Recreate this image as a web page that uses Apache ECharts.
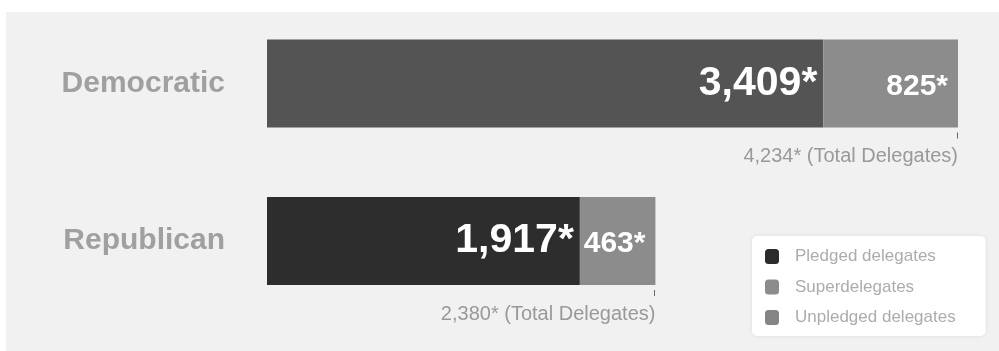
<!DOCTYPE html>
<html>
<head>
<meta charset="utf-8">
<script src="https://cdn.jsdelivr.net/npm/echarts@6/dist/echarts.min.js"></script>
<style>
  html, body { margin: 0; padding: 0; background: #fff; }
  #chart { width: 999px; height: 351px; }
</style>
</head>
<body>
<div id="chart"></div>
<script>
// Delegate counts per party
const parties = ['Democratic', 'Republican'];
const pledged = [3409, 1917];
const superdelegates = [825, 463];
const unpledged = [];
const seriesNames = ['Pledged delegates', 'Superdelegates', 'Unpledged delegates'];

const totals = parties.map((p, i) => pledged[i] + superdelegates[i]);
const fmt = v => Number(v).toLocaleString('en-US') + '*';

const FONT = '"Liberation Sans", Arial, Helvetica, sans-serif';
const BAR_W = 88;

const chart = echarts.init(document.getElementById('chart'), null, { renderer: 'canvas' });

chart.setOption({
  backgroundColor: '#ffffff',
  animation: false,
  graphic: [{
    type: 'rect',
    z: -10,
    left: 6, top: 12,
    shape: { width: 993, height: 339 },
    style: { fill: '#f1f1f1' }
  }],
  grid: { left: 267, right: 41, top: 4.75, height: 315 },
  xAxis: {
    type: 'value', min: 0, max: totals[0],
    show: false
  },
  yAxis: {
    type: 'category',
    data: parties,
    inverse: true,
    axisLine: { show: false },
    axisTick: { show: false },
    splitLine: { show: false },
    axisLabel: {
      margin: 42,
      color: '#a0a0a0',
      fontFamily: FONT,
      fontWeight: 'bold',
      fontSize: 30
    }
  },
  legend: {
    data: seriesNames,
    orient: 'vertical',
    left: 752, top: 236,
    padding: [12, 30, 10, 13],
    itemGap: 13.5,
    itemWidth: 14, itemHeight: 15,
    icon: 'roundRect',
    backgroundColor: '#ffffff',
    borderRadius: 5,
    shadowBlur: 4,
    shadowColor: 'rgba(0,0,0,0.08)',
    selectedMode: false,
    textStyle: {
      color: '#acacac',
      fontFamily: FONT,
      fontSize: 17,
      padding: [0, 0, 0, 11]
    }
  },
  series: [
    {
      name: seriesNames[0],
      type: 'bar',
      stack: 'del',
      barWidth: BAR_W,
      itemStyle: { color: '#2b2b2b' },
      data: pledged.map((v, i) => ({
        value: v,
        itemStyle: { color: i === 0 ? '#545454' : '#2d2d2d' }
      })),
      label: {
        show: true,
        position: 'insideRight',
        distance: 6,
        color: '#ffffff',
        fontFamily: FONT,
        fontWeight: 'bold',
        fontSize: 41,
        formatter: p => fmt(p.value)
      }
    },
    {
      name: seriesNames[1],
      type: 'bar',
      stack: 'del',
      barWidth: BAR_W,
      itemStyle: { color: '#8c8c8c' },
      data: superdelegates,
      label: {
        show: true,
        position: 'insideRight',
        distance: 10,
        offset: [0, 3],
        color: '#ffffff',
        fontFamily: FONT,
        fontWeight: 'bold',
        fontSize: 30,
        formatter: p => fmt(p.value)
      }
    },
    {
      name: seriesNames[2],
      type: 'bar',
      stack: 'del',
      barWidth: BAR_W,
      itemStyle: { color: '#858585' },
      data: unpledged
    },
    {
      // total marker: small tick under the bar end plus the total caption
      name: 'totals',
      type: 'custom',
      silent: true,
      data: totals.map((t, i) => [t, i]),
      renderItem: (params, api) => {
        const p = api.coord([api.value(0), api.value(1)]);
        const x = Math.round(p[0]) - 0.5;
        const yb = p[1] + BAR_W / 2;
        return {
          type: 'group',
          children: [
            {
              type: 'line',
              shape: { x1: x, y1: yb + 5, x2: x, y2: yb + 11 },
              style: { stroke: '#666', lineWidth: 1 }
            },
            {
              type: 'text',
              x: p[0],
              y: yb + 29,
              style: {
                text: fmt(api.value(0)) + ' (Total Delegates)',
                fill: '#999999',
                font: '20px ' + FONT,
                align: 'right',
                verticalAlign: 'middle'
              }
            }
          ]
        };
      }
    }
  ]
});
</script>
</body>
</html>
